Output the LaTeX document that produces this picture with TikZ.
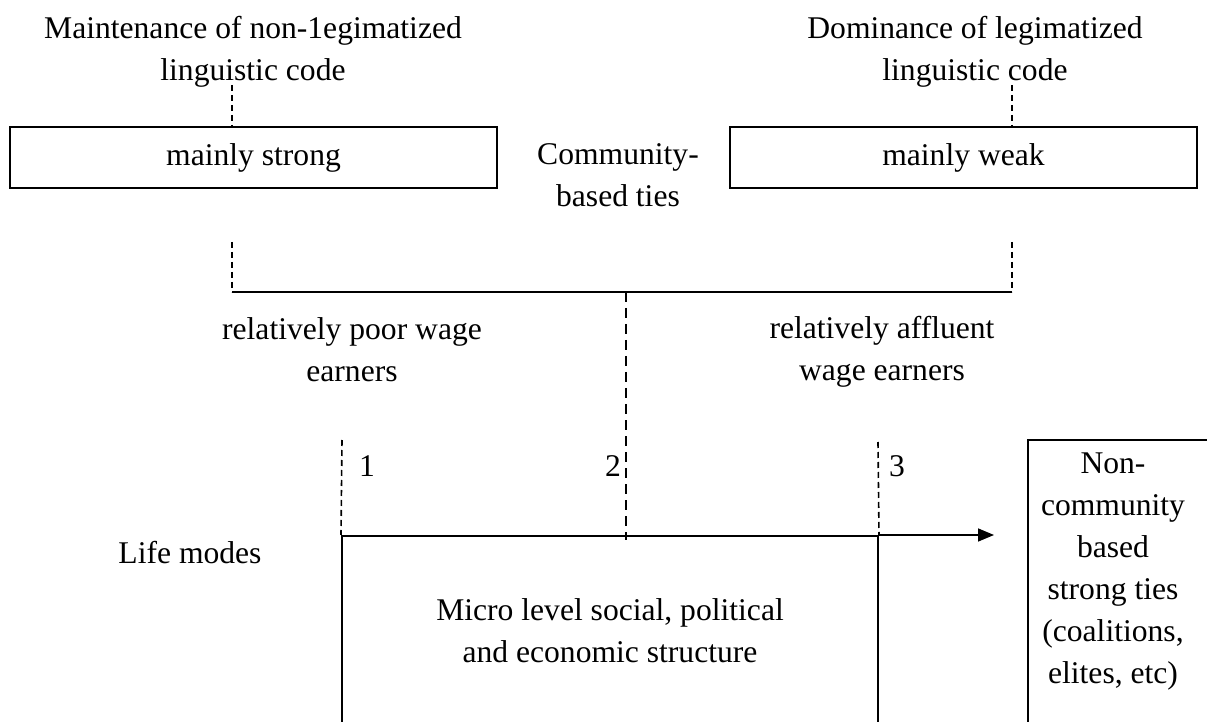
\documentclass[tikz,border=0pt]{standalone}
\usepackage{fontspec}
\setmainfont{Liberation Serif}
\usetikzlibrary{arrows.meta}
\tikzset{
	box/.style={draw, line width=1pt, align=center, inner sep=0pt},
	txt/.style={align=center, inner sep=0pt},
	tie/.style={dash pattern=on 3pt off 2pt, line width=0.8pt},
	longtie/.style={dash pattern=on 5pt off 3pt, line width=0.8pt}
}
\begin{document}
\begin{tikzpicture}[x=0.5pt, y=-0.5pt, font=\fontsize{15.8}{21}\selectfont]
			\clip (0,0) rectangle (1207,722);
			% top labels and boxes
			\node[txt] (maint) at (253,52) {Maintenance of non-1egimatized\\linguistic code};
			\node[txt] (domin) at (975,52) {Dominance of legimatized\\linguistic code};
			\node[box, minimum width=243.5pt, minimum height=30.5pt] (strong) at (253.5,157.5) {mainly strong};
			\node[box, minimum width=233.5pt, minimum height=30.5pt] (weak) at (963.5,157.5) {mainly weak};
			\node[txt] (comm) at (618,175) {Community-\\based ties};
			\coordinate (lt) at (232,85);
			\coordinate (rt) at (1012,85);
			\draw[tie] (lt) -- (lt |- strong.north);
			\draw[tie] (rt) -- (rt |- weak.north);
			% fork
			\coordinate (lf) at (232,242);
			\coordinate (rf) at (1012,242);
			\coordinate (lj) at (232,292);
			\coordinate (rj) at (1012,292);
			\coordinate (mj) at (626,292);
			\draw[tie] (lf) -- (lj);
			\draw[tie] (rf) -- (rj);
			\draw[line width=0.8pt] (lj) -- (rj);
			\node[txt] (poor) at (352,350) {relatively poor wage\\earners};
			\node[txt] (affl) at (882,352) {relatively affluent\\wage earners};
			% life modes
			\node[box, minimum width=268pt, minimum height=95pt] (micro) at (610,631) {Micro level social, political\\and economic structure};
			\node[txt] (life) at (190,553) {Life modes};
			\coordinate (m1) at (342,440);
			\coordinate (m3) at (878,442);
			\coordinate (mb) at (626,540);
			\draw[tie] (m1) -- (micro.north west);
			\draw[tie] (m3) -- (micro.north east);
			\draw[longtie] (mj) -- (mb);
			\node[txt] (one) at (367,466) {1};
			\node[txt] (two) at (613,466) {2};
			\node[txt] (three) at (897,466) {3};
			\node[box, minimum width=92pt, minimum height=143pt] (ncbox) at (1120,583) {};
			\node[txt] (nctext) at (1113,572) {Non-\\community\\based\\strong ties\\(coalitions,\\elites, etc)};
			\coordinate (arr) at ([xshift=57.5pt]micro.north east);
			\draw[line width=0.8pt, -{Triangle[length=8pt,width=6.5pt]}] (micro.north east) -- (arr);
		\end{tikzpicture}
\end{document}
